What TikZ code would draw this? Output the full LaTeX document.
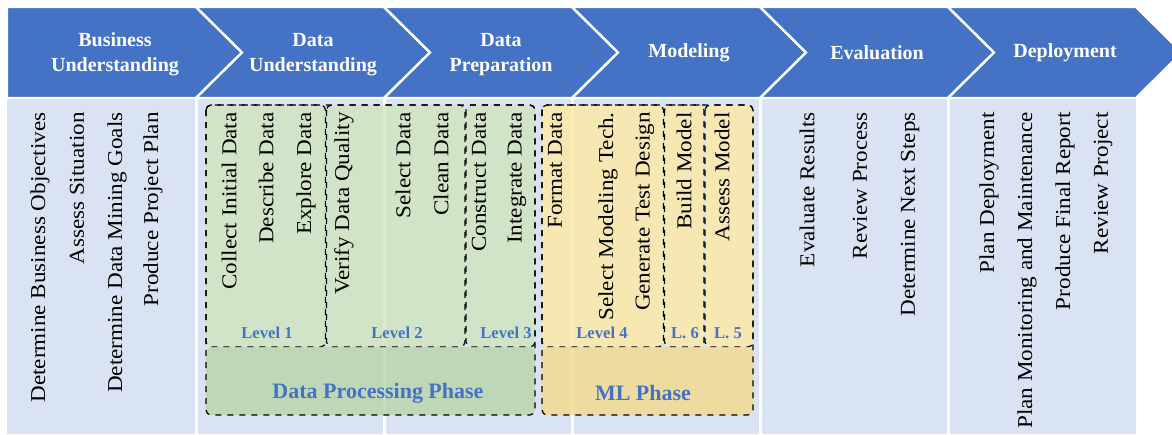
\documentclass[tikz,border=0pt]{standalone}
\usepackage{fontspec}
\setmainfont{Liberation Serif}
\newfontfamily\taskfont[FakeStretch=1.09]{Liberation Serif}

\definecolor{crispblue}{RGB}{68,114,196}
\definecolor{panelblue}{RGB}{218,227,243}
\definecolor{gtop}{RGB}{209,229,189}
\definecolor{gbot}{RGB}{183,213,169}
\definecolor{ytop}{RGB}{255,233,164}
\definecolor{ybot}{RGB}{243,217,139}

\tikzset{
    chev/.style={fill=crispblue, draw=white, line width=1.2pt, line join=miter},
    panel/.style={fill=panelblue},
    phasetitle/.style={text=white, align=center, font=\bfseries\fontsize{10}{12.5}\selectfont},
    task/.style={rotate=90, anchor=east, inner sep=0pt, font=\taskfont\fontsize{10.6}{12}\selectfont},
    lvl/.style={draw=black, dashed, line width=0.6pt, rounded corners=2.5pt},
    lvltext/.style={text=crispblue, font=\bfseries\fontsize{8.3}{9}\selectfont},
    phasetext/.style={text=crispblue, font=\bfseries\fontsize{11}{12}\selectfont}
}

\begin{document}
\begin{tikzpicture}[x=0.5pt, y=-0.5pt]
    \clip (0,0) rectangle (1172,434);
    \fill[white] (0,0) rectangle (1172,434);

    % columns under the phases
    \fill[panel] (7,99) rectangle (194.5,434);
    \fill[panel] (197.5,99) rectangle (382.5,434);
    \fill[panel] (385.5,99) rectangle (570.5,434);
    \fill[panel] (573.5,99) rectangle (758.5,434);
    \fill[panel] (761.5,99) rectangle (946.5,434);
    \fill[panel] (949.5,99) rectangle (1136,434);

    % chevrons
    \draw[chev] (7,7) -- (196,7) -- (242,52.5) -- (196,98) -- (7,98) -- cycle;
    \draw[chev] (196,7) -- (384,7) -- (430,52.5) -- (384,98) -- (196,98) -- (242,52.5) -- cycle;
    \draw[chev] (384,7) -- (572,7) -- (618,52.5) -- (572,98) -- (384,98) -- (430,52.5) -- cycle;
    \draw[chev] (572,7) -- (760,7) -- (806,52.5) -- (760,98) -- (572,98) -- (618,52.5) -- cycle;
    \draw[chev] (760,7) -- (948,7) -- (994,52.5) -- (948,98) -- (760,98) -- (806,52.5) -- cycle;
    \draw[chev] (948,7) -- (1136,7) -- (1182,52.5) -- (1136,98) -- (948,98) -- (994,52.5) -- cycle;

    \node[phasetitle] (bu) at (115,54.5) {Business\\Understanding};
    \node[phasetitle] (du) at (313,54.5) {Data\\Understanding};
    \node[phasetitle] (dpr) at (501,54.5) {Data\\Preparation};
    \node[phasetitle] (mo) at (689,53) {Modeling};
    \node[phasetitle] (ev) at (877,53) {Evaluation};
    \node[phasetitle] (de) at (1065,53) {Deployment};

    % data processing phase
    \draw[lvl, fill=gtop, fill opacity=0.8] (206,105) rectangle (325.5,347);
    \draw[lvl, fill=gtop, fill opacity=0.8] (326.5,105) rectangle (465,347);
    \draw[lvl, fill=gtop, fill opacity=0.8] (466,105) rectangle (535,347);
    \fill[gbot, fill opacity=0.8, rounded corners=2.5pt] (206,347) rectangle (535,415);
    \draw[lvl] (206,105) rectangle (535,415);

    % ml phase
    \draw[lvl, fill=ytop, fill opacity=0.8] (542,105) rectangle (663.5,347);
    \draw[lvl, fill=ytop, fill opacity=0.8] (664.5,105) rectangle (704,347);
    \draw[lvl, fill=ytop, fill opacity=0.8] (705,105) rectangle (753,347);
    \fill[ybot, fill opacity=0.8, rounded corners=2.5pt] (542,347) rectangle (753,415);
    \draw[lvl] (542,105) rectangle (753,415);

    \node[lvltext] (lv1) at (267,333) {Level 1};
    \node[lvltext] (lv2) at (397,333) {Level 2};
    \node[lvltext] (lv3) at (506,333) {Level 3};
    \node[lvltext] (lv4) at (602,333) {Level 4};
    \node[lvltext] (lv6) at (685,333) {L. 6};
    \node[lvltext] (lv5) at (728,333) {L. 5};
    \node[phasetext] (dpp) at (378,393) {Data Processing Phase};
    \node[phasetext] (mlp) at (643,393) {ML Phase};

    % tasks
    \node[task] (dbo) at (40,112) {Determine Business Objectives};
    \node[task] (as) at (77,112) {Assess Situation};
    \node[task] (ddmg) at (117,112) {Determine Data Mining Goals};
    \node[task] (ppp) at (153,112) {Produce Project Plan};

    \node[task] (cid) at (229,112) {Collect Initial Data};
    \node[task] (desd) at (266,112) {Describe Data};
    \node[task] (expd) at (306,112) {Explore Data};
    \node[task] (vdq) at (344,112) {Verify Data Quality};

    \node[task] (seld) at (403,112) {Select Data};
    \node[task] (clnd) at (441,112) {Clean Data};
    \node[task] (cond) at (479,112) {Construct Data};
    \node[task] (intd) at (517,112) {Integrate Data};
    \node[task] (fmtd) at (555,112) {Format Data};

    \node[task] (smt) at (608,112) {Select Modeling Tech.};
    \node[task] (gtd) at (645,112) {Generate Test Design};
    \node[task] (bm) at (684,112) {Build Model};
    \node[task] (am) at (722,112) {Assess Model};

    \node[task] (er) at (807,112) {Evaluate Results};
    \node[task] (rp) at (860,112) {Review Process};
    \node[task] (dns) at (910,112) {Determine Next Steps};

    \node[task] (pd) at (989,112) {Plan Deployment};
    \node[task] (pmm) at (1027,112) {Plan Monitoring and Maintenance};
    \node[task] (pfr) at (1065,112) {Produce Final Report};
    \node[task] (rpj) at (1103,112) {Review Project};
\end{tikzpicture}
\end{document}
